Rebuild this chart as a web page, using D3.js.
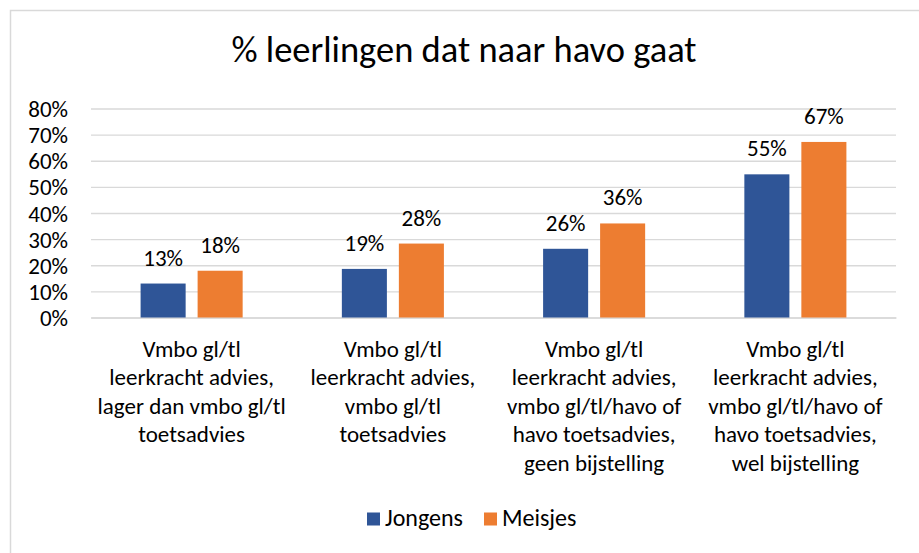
<!DOCTYPE html>
<html>
<head>
<meta charset="utf-8">
<script src="https://cdn.jsdelivr.net/npm/d3@7"></script>
<style>
  body { margin: 0; background: #fff; }
  svg text { font-family: Carlito, Calibri, Lato, sans-serif; fill: #000; }
</style>
</head>
<body>
<div id="chart"></div>
<script>
const title = "% leerlingen dat naar havo gaat";
const categories = [
  ["Vmbo gl/tl", "leerkracht advies,", "lager dan vmbo gl/tl", "toetsadvies"],
  ["Vmbo gl/tl", "leerkracht advies,", "vmbo gl/tl", "toetsadvies"],
  ["Vmbo gl/tl", "leerkracht advies,", "vmbo gl/tl/havo of", "havo toetsadvies,", "geen bijstelling"],
  ["Vmbo gl/tl", "leerkracht advies,", "vmbo gl/tl/havo of", "havo toetsadvies,", "wel bijstelling"]
];
const seriesNames = ["Jongens", "Meisjes"];
const jongens = [0.13, 0.186, 0.263, 0.548];
const meisjes = [0.179, 0.283, 0.36, 0.672];
const yTicks = [0, 0.1, 0.2, 0.3, 0.4, 0.5, 0.6, 0.7, 0.8];
const colors = ["#2F5597", "#ED7D31"];

const width = 919, height = 553;
const margin = { top: 108.5, right: 23, bottom: 235.5, left: 91 };
const plotW = width - margin.left - margin.right;
const plotH = height - margin.top - margin.bottom;
const labelSize = "23px";

const svg = d3.select("#chart").append("svg")
  .attr("width", width)
  .attr("height", height);

// chart area border (only top/left visible in the crop)
svg.append("rect")
  .attr("x", 10.5).attr("y", 10.5)
  .attr("width", 920).attr("height", 560)
  .attr("fill", "#fff")
  .attr("stroke", "#D9D9D9")
  .attr("stroke-width", 1.5);

svg.append("text")
  .attr("x", 464).attr("y", 62)
  .attr("text-anchor", "middle")
  .style("font-size", "36.5px")
  .text(title);

const g = svg.append("g")
  .attr("transform", `translate(${margin.left},${margin.top})`);

const keys = categories.map((d, i) => i);
const x0 = d3.scaleBand().domain(keys).range([0, plotW]).padding(0);
const x1 = d3.scaleBand().domain(seriesNames).range([0, x0.bandwidth()])
  .paddingInner(0.21).paddingOuter(0.87);
const y = d3.scaleLinear().domain([0, 0.8]).range([plotH, 0]);

// gridlines + y labels
const yAxis = g.append("g")
  .call(d3.axisLeft(y).tickValues(yTicks).tickFormat(d3.format(".0%"))
    .tickSize(-plotW).tickPadding(23));
yAxis.select(".domain").remove();
yAxis.selectAll(".tick line").attr("stroke", "#D9D9D9").attr("stroke-width", 1.3);
yAxis.selectAll(".tick text").style("font-size", labelSize).attr("dy", "0.35em");

// x axis
const xAxis = g.append("g")
  .attr("transform", `translate(0,${plotH})`)
  .call(d3.axisBottom(x0).tickSize(0).tickFormat(""));
xAxis.select(".domain").attr("stroke", "#D9D9D9").attr("stroke-width", 1.3);
xAxis.selectAll(".tick").each(function(d) {
  const t = d3.select(this).append("text")
    .attr("text-anchor", "middle")
    .style("font-size", labelSize);
  categories[d].forEach((line, i) => {
    t.append("tspan").attr("x", 0).attr("y", 39.5 + i * 28.4).text(line);
  });
});

const rows = keys.map(i => ({ i, values: [jongens[i], meisjes[i]] }));
const fmt = d3.format(".0%");

const groups = g.selectAll(".cat")
  .data(rows)
  .enter().append("g")
  .attr("class", "cat")
  .attr("transform", d => `translate(${x0(d.i)},0)`);

groups.selectAll("rect")
  .data(d => d.values.map((v, k) => ({ key: seriesNames[k], v, k })))
  .enter().append("rect")
  .attr("x", d => x1(d.key))
  .attr("y", d => y(d.v))
  .attr("width", x1.bandwidth())
  .attr("height", d => plotH - y(d.v))
  .attr("fill", d => colors[d.k]);

groups.selectAll(".lbl")
  .data(d => d.values.map((v, k) => ({ key: seriesNames[k], v, k })))
  .enter().append("text")
  .attr("class", "lbl")
  .attr("x", d => x1(d.key) + x1.bandwidth() / 2)
  .attr("y", d => y(d.v) - 18)
  .attr("text-anchor", "middle")
  .style("font-size", labelSize)
  .text(d => fmt(d.v));

// legend
const legend = svg.append("g").attr("transform", "translate(367,512.5)");
const legendX = [0, 117];
const item = legend.selectAll(".legend-item")
  .data(seriesNames)
  .enter().append("g")
  .attr("class", "legend-item")
  .attr("transform", (d, i) => `translate(${legendX[i]},0)`);
item.append("rect")
  .attr("width", 13).attr("height", 13)
  .attr("fill", (d, i) => colors[i]);
item.append("text")
  .attr("x", 18).attr("y", 13)
  .style("font-size", "24px")
  .text(d => d);
</script>
</body>
</html>
